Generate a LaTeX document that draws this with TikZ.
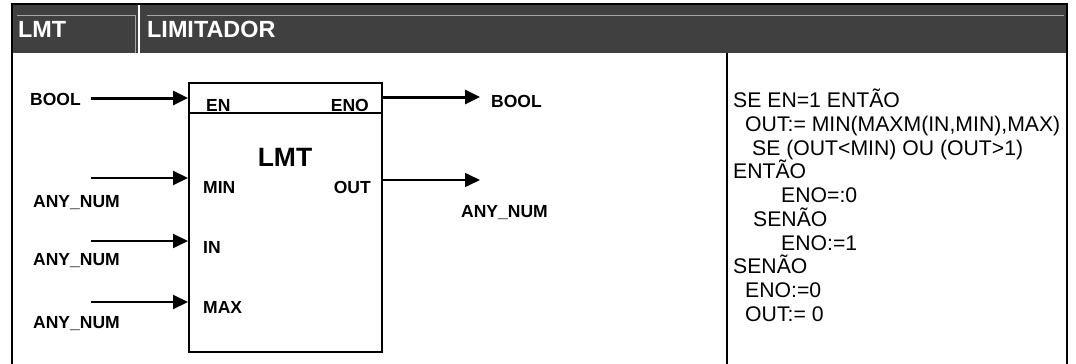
\documentclass[tikz,border=0pt]{standalone}
\usepackage{fontspec}
\setmainfont{Liberation Sans}
\usetikzlibrary{arrows.meta, positioning}

\begin{document}
\begin{tikzpicture}[
    x=1pt, y=-1pt,
    frame/.style={line width=2pt},
    bevel/.style={line width=0.8pt, gray!70},
    head/.style={anchor=west, inner sep=0pt, text=white, font=\fontsize{23.4}{28}\selectfont\bfseries},
    typ/.style={inner sep=0pt, font=\fontsize{17.5}{21}\selectfont\bfseries},
    pinl/.style={typ, anchor=west},
    pinr/.style={typ, anchor=east},
    fname/.style={inner sep=0pt, font=\fontsize{26.5}{30}\selectfont\bfseries},
    fblock/.style={draw, line width=2pt, minimum width=193pt, minimum height=269pt, inner sep=0pt},
    arrow/.style={-{Triangle[length=15pt, width=14pt]}, line width=2pt},
    code/.style={anchor=north west, inner sep=0pt, align=left, font=\fontsize{21.2}{23.7}\selectfont}
]
    \useasboundingbox (0,0) rectangle (1076,364);

    % header
    \fill[black!75] (12,4) rectangle (1067,53);
    \draw[bevel] (17,15) -- (135,15) -- (135,53);
    \draw[bevel] (147,15) -- (1064,15);
    \draw[white, line width=1.5pt] (139,4) -- (139,53);
    \draw[frame] (12,364) -- (12,4) -- (1067,4) -- (1067,364);
    \draw[frame] (727,53) -- (727,364);

    \node[head] (hcode) at (18,29) {LMT};
    \node[head] (hname) at (147,29) {LIMITADOR};

    % function block
    \node[fblock] (lmt) at (285.5,217.5) {};
    \draw[line width=2pt] (lmt.west |- 0,113) -- (lmt.east |- 0,113);
    \node[fname] (title) at (285,157) {LMT};

    \node[pinl] (pen) at (206,105) {EN};
    \node[pinr] (peno) at (369,105) {ENO};
    \node[pinl] (pmin) at (203,187) {MIN};
    \node[pinr] (pout) at (371,187) {OUT};
    \node[pinl] (pin) at (203,247) {IN};
    \node[pinl] (pmax) at (203,307) {MAX};

    % inputs
    \coordinate (ien) at (91,98);
    \coordinate (imin) at (91,178);
    \coordinate (iin) at (91,241);
    \coordinate (imax) at (91,302);
    \draw[arrow, line width=3pt] (ien) -- (ien -| lmt.west);
    \draw[arrow] (imin) -- (imin -| lmt.west);
    \draw[arrow] (iin) -- (iin -| lmt.west);
    \draw[arrow] (imax) -- (imax -| lmt.west);

    \node[pinl] (ten) at (30,99) {BOOL};
    \node[pinl] (tmin) at (33,203) {ANY\_NUM};
    \node[pinl] (tin) at (33,261) {ANY\_NUM};
    \node[pinl] (tmax) at (33,324) {ANY\_NUM};

    % outputs
    \coordinate (oeno) at (480,97);
    \coordinate (oout) at (480,180);
    \draw[arrow, line width=3pt] (oeno -| lmt.east) -- (oeno);
    \draw[arrow, line width=1.6pt] (oout -| lmt.east) -- (oout);

    \node[pinl] (teno) at (491,101) {BOOL};
    \node[pinl] (tout) at (461,213) {ANY\_NUM};

    % description
    \node[code] (desc) at (733,89) {SE EN=1 ENTÃO\\
    \hspace*{12pt}OUT:= MIN(MAXM(IN,MIN),MAX)\\
    \hspace*{19pt}SE (OUT<MIN) OU (OUT>1)\\
    ENTÃO\\
    \hspace*{48pt}ENO=:0\\
    \hspace*{20pt}SENÃO\\
    \hspace*{48pt}ENO:=1\\
    SENÃO\\
    \hspace*{12pt}ENO:=0\\
    \hspace*{12pt}OUT:= 0};

\end{tikzpicture}
\end{document}
